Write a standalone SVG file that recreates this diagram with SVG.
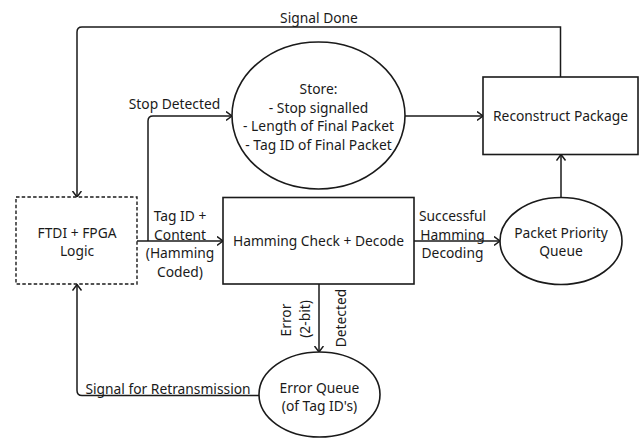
<svg xmlns="http://www.w3.org/2000/svg" width="641" height="438" viewBox="0 0 641 438">
<style>
text{font-family:"Noto Sans","Open Sans","DejaVu Sans",sans-serif;font-size:13.8px;fill:#1a1a1a;text-anchor:middle}
.shape{fill:#fff;stroke:#1a1a1a;stroke-width:1.6}
.dash{stroke-dasharray:3.5 2.2;stroke-width:1.4}
.conn path{fill:none;stroke:#1a1a1a;stroke-width:1.5}
</style>
<defs>
<marker id="arr" markerUnits="userSpaceOnUse" markerWidth="10" markerHeight="12" refX="6.5" refY="5" orient="auto">
<path d="M0.5,0.5 L6.5,5 L0.5,9.5" fill="none" stroke="#1a1a1a" stroke-width="1.5"/>
</marker>
</defs>
<rect width="641" height="438" fill="#fff"/>
<g id="connectors" class="conn">
<path d="M560.5,77 V27 H82 Q77,27 77,32 V197" marker-end="url(#arr)"/>
<path d="M148,241 V121 Q148,116 153,116 H232" marker-end="url(#arr)"/>
<path d="M137,241 H223" marker-end="url(#arr)"/>
<path d="M405,116 H483" marker-end="url(#arr)"/>
<path d="M414,241 H500" marker-end="url(#arr)"/>
<path d="M561,197 V154.5" marker-end="url(#arr)"/>
<path d="M319,284 V352" marker-end="url(#arr)"/>
<path d="M259,395.5 H82 Q77,395.5 77,390.5 V284.5" marker-end="url(#arr)"/>
</g>
<g id="labels">
<text x="319" y="22.5">Signal Done</text>
<text x="174.5" y="109">Stop Detected</text>
<text x="180" y="221">Tag ID +</text>
<text x="180" y="240">Content</text>
<text x="180" y="258">(Hamming</text>
<text x="180" y="276.5">Coded)</text>
<text x="452.5" y="221">Successful</text>
<text x="452.5" y="240">Hamming</text>
<text x="452.5" y="258">Decoding</text>
<text transform="translate(286,320) rotate(-90)" x="0" y="5">Error</text>
<text transform="translate(305,319) rotate(-90)" x="0" y="5">(2-bit)</text>
<text transform="translate(341,318) rotate(-90)" x="0" y="5">Detected</text>
<text x="168" y="393.5">Signal for Retransmission</text>
</g>
<g id="ftdi">
<rect class="shape dash" x="16" y="197" width="121" height="87"/>
<text x="77" y="238">FTDI + FPGA</text>
<text x="77" y="256">Logic</text>
</g>
<g id="store">
<ellipse class="shape" cx="318.5" cy="115.5" rx="86.5" ry="73.5"/>
<text x="318.5" y="94">Store:</text>
<text x="318.5" y="112.5">- Stop signalled</text>
<text x="318.5" y="131">- Length of Final Packet</text>
<text x="318.5" y="149.5">- Tag ID of Final Packet</text>
</g>
<g id="reconstruct">
<rect class="shape" x="483" y="77" width="155" height="77.5"/>
<text x="560.5" y="121">Reconstruct Package</text>
</g>
<g id="hamming">
<rect class="shape" x="223" y="197.5" width="191" height="86.5"/>
<text x="318.5" y="246">Hamming Check + Decode</text>
</g>
<g id="ppq">
<ellipse class="shape" cx="561" cy="241" rx="61" ry="43.5"/>
<text x="561" y="237.5">Packet Priority</text>
<text x="561" y="256">Queue</text>
</g>
<g id="errorq">
<ellipse class="shape" cx="319.5" cy="394.5" rx="60.5" ry="42.5"/>
<text x="319.5" y="392.5">Error Queue</text>
<text x="319.5" y="411">(of Tag ID's)</text>
</g>
</svg>
